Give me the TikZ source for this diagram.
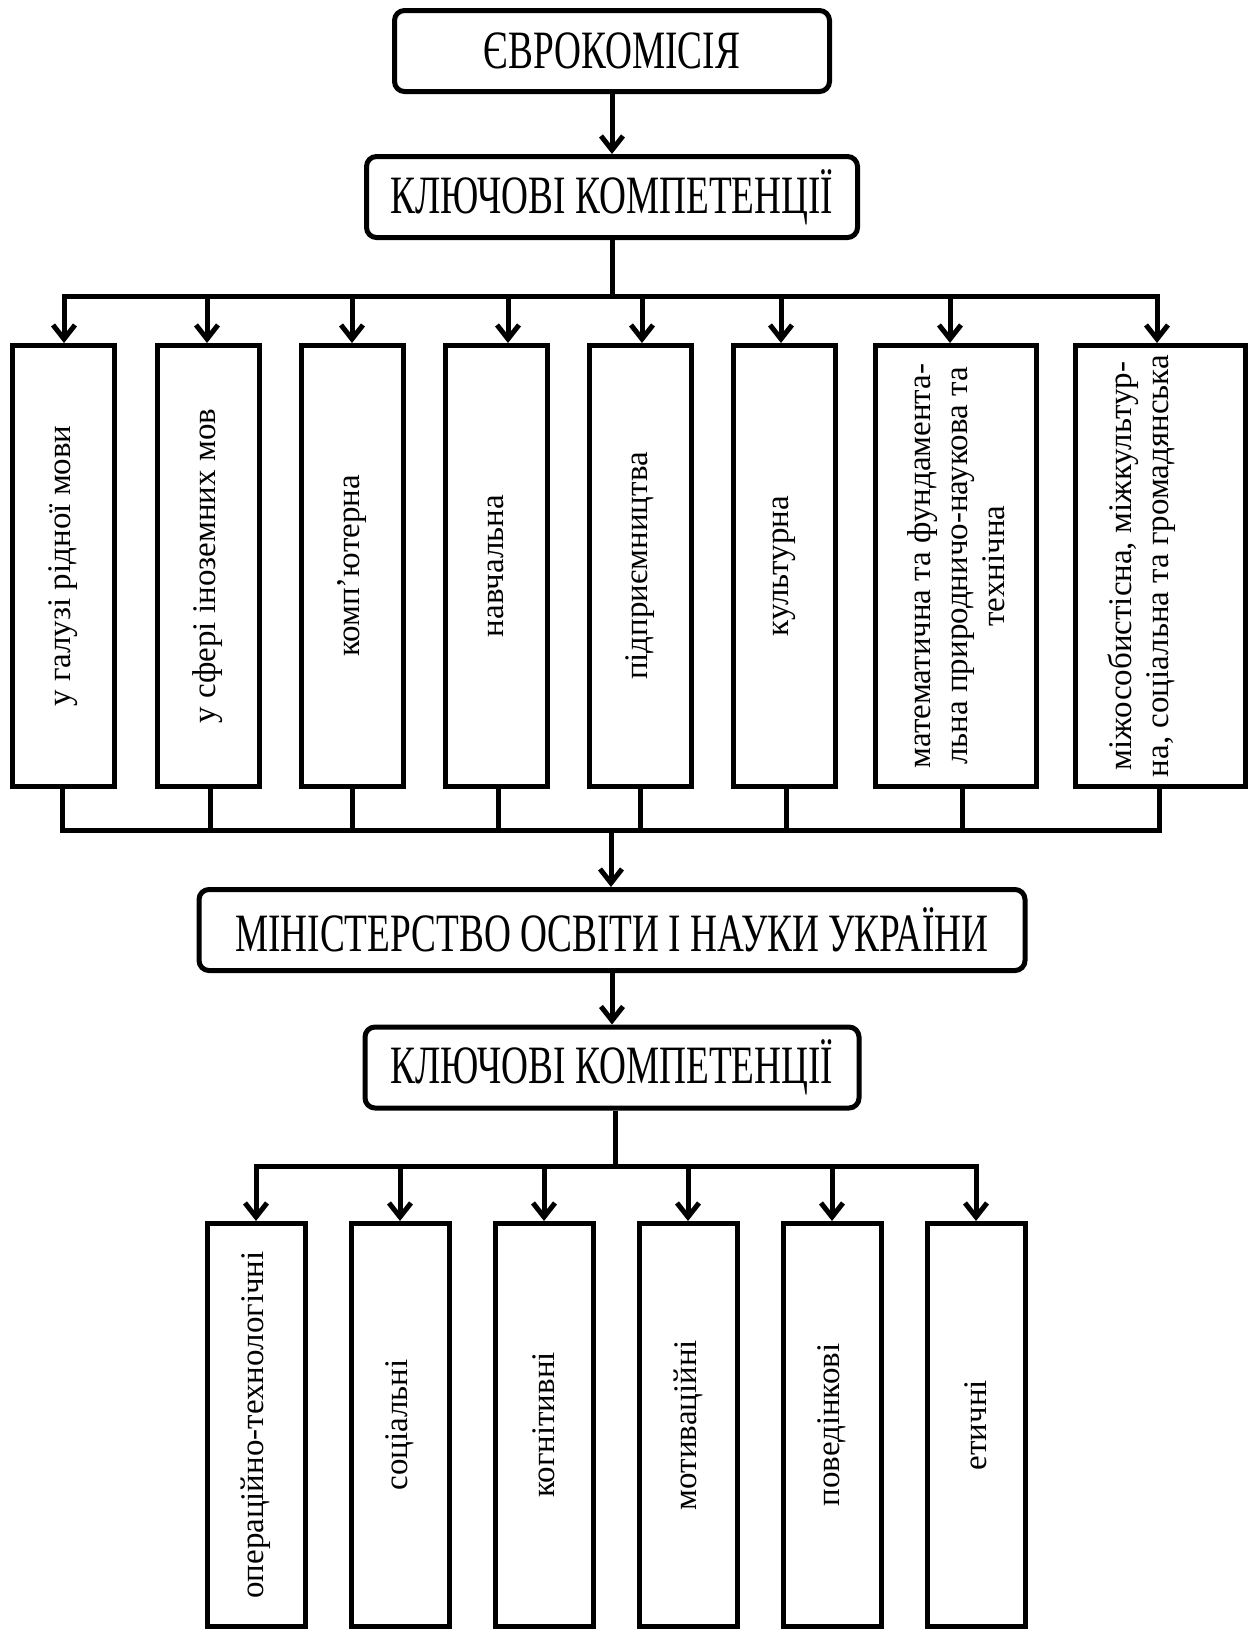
\documentclass[tikz,border=0pt]{standalone}
\usepackage{fontspec}
\setmainfont{Liberation Serif}
\usetikzlibrary{arrows.meta}
\newcommand{\narrow}[1]{\scalebox{0.69}[1]{#1}}

\begin{document}
\begin{tikzpicture}[x=0.5pt, y=-0.5pt,
    every node/.style={inner sep=0pt},
    headbox/.style={draw, line width=2.5pt, rounded corners=5pt, minimum height=40.5pt,
      font={\fontsize{27}{30}\selectfont}},
    coltext/.style={rotate=90, align=center, font={\fontsize{16.5}{18.5}\selectfont}},
    colbox/.style={coltext, draw, line width=2.5pt, minimum width=220.5pt, minimum height=#1},
    colbox/.default=51pt,
    lowbox/.style={coltext, draw, line width=2.5pt, minimum width=201.5pt, minimum height=49pt},
    link/.style={line width=2.5pt},
    arr/.style={link, -{Straight Barb[length=7pt,width=11pt]}}]
        \useasboundingbox (0,0) rectangle (1256,1629);
        % European level
        \node[headbox, minimum width=217.5pt] (euro) at (612,51) {\narrow{ЄВРОКОМІСІЯ}};
        \node[headbox, minimum width=245.5pt] (key1) at (612,197) {\narrow{КЛЮЧОВІ КОМПЕТЕНЦІЇ}};
        \draw[arr] (euro) -- (key1);
        \node[colbox] (c1) at (63,566) {у галузі рідної мови};
        \node[colbox] (c2) at (208,566) {у сфері іноземних мов};
        \node[colbox] (c3) at (352,566) {комп’ютерна};
        \node[colbox] (c4) at (496,566) {навчальна};
        \node[colbox] (c5) at (640,566) {підприємництва};
        \node[colbox] (c6) at (784,566) {культурна};
        \node[colbox=80.5pt] (c7) at (956,566) {математична та фундамента-\\льна природничо-наукова та\\технічна};
        \node[colbox=85pt] (c8) at (1160,566) {};
        \node[coltext] (t8) at ([xshift=-9pt]c8.center) {міжособистісна, міжкультур-\\на, соціальна та громадянська};
        \coordinate (split1) at (612,296);
        \draw[link] (key1) -- (split1);
        \draw[link, line cap=rect] ([xshift=0.5pt]c1.east |- split1) -- ([xshift=-1.5pt]c8.east |- split1);
        \foreach \i/\dx in {1/0.5,2/-0.5,3/0,4/6,5/1,6/-1.5,7/-3,8/-1.5} {
          \draw[arr] ([xshift=\dx pt]c\i.east |- split1) -- ([xshift=\dx pt]c\i.east);
        }
        \coordinate (join1) at (611,830);
        \foreach \i/\dx in {1/-0.5,2/1,3/0,4/1,5/0,6/1,7/3,8/-0.5} {
          \draw[link] ([xshift=\dx pt]c\i.west) -- ([xshift=\dx pt]c\i.west |- join1);
        }
        \draw[link, line cap=rect] ([xshift=-0.5pt]c1.west |- join1) -- ([xshift=-0.5pt]c8.west |- join1);
        % Ukrainian level
        \node[headbox, minimum width=413pt] (mon) at (612,930) {\narrow{МІНІСТЕРСТВО ОСВІТИ І НАУКИ УКРАЇНИ}};
        \draw[arr] (join1) -- (join1 |- mon.north);
        \node[headbox, minimum width=247pt] (key2) at (612,1067.5) {\narrow{КЛЮЧОВІ КОМПЕТЕНЦІЇ}};
        \draw[arr] (mon) -- (key2);
        \foreach \t [count=\i] in {операційно-технологічні, соціальні, когнітивні, мотиваційні, поведінкові, етичні} {
          \node[lowbox] (l\i) at (112+144*\i,1425) {\t};
        }
        \coordinate (split2) at (615,1166);
        \draw[link] (key2.south -| split2) -- (split2);
        \draw[link, line cap=rect] (l1.east |- split2) -- (l6.east |- split2);
        \foreach \i in {1,...,6} {
          \draw[arr] (l\i.east |- split2) -- (l\i.east);
        }
      \end{tikzpicture}
\end{document}
